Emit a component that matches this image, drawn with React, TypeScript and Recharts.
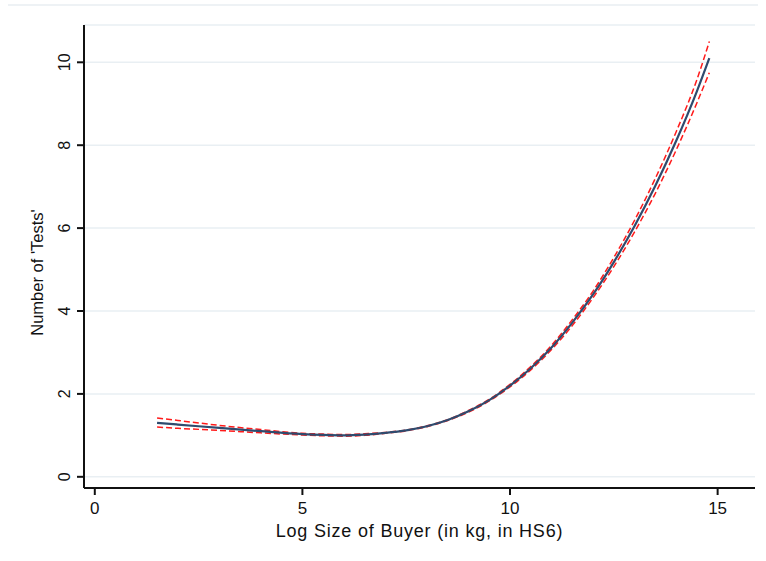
import React from "react";
import { LineChart, Line, XAxis, YAxis, CartesianGrid } from "recharts";

const sizes = [1.5, 2, 3, 4, 5, 5.5, 6, 6.5, 7, 7.5, 8, 8.5, 9, 9.5, 10, 10.5, 11, 11.5, 12, 12.5, 13, 13.5, 14, 14.5, 14.8];
const tests = [1.3, 1.26, 1.18, 1.1, 1.03, 1.01, 1.0, 1.02, 1.06, 1.12, 1.22, 1.37, 1.58, 1.85, 2.2, 2.62, 3.12, 3.72, 4.4, 5.18, 6.05, 7.02, 8.1, 9.3, 10.1];
const upper = [1.42, 1.36, 1.24, 1.14, 1.05, 1.03, 1.02, 1.04, 1.07, 1.13, 1.23, 1.38, 1.6, 1.87, 2.23, 2.66, 3.17, 3.79, 4.48, 5.29, 6.19, 7.2, 8.32, 9.58, 10.5];
const lower = [1.2, 1.17, 1.12, 1.06, 1.01, 0.99, 0.98, 1.0, 1.05, 1.11, 1.21, 1.36, 1.56, 1.83, 2.17, 2.58, 3.07, 3.65, 4.32, 5.07, 5.91, 6.84, 7.88, 9.02, 9.75];

const xTicks = [0, 5, 10, 15];
const yTicks = [0, 2, 4, 6, 8, 10];

const data = sizes.map((x, i) => ({ x, fit: tests[i], hi: upper[i], lo: lower[i] }));

const FONT = "'Liberation Sans', Arial, sans-serif";

function YTick(props: any) {
  const { x, y, payload } = props;
  const cx = x - 5;
  return (
    <text
      x={cx}
      y={y}
      transform={`rotate(-90 ${cx} ${y})`}
      textAnchor="middle"
      fontSize={16}
      fontFamily={FONT}
      fill="#111"
    >
      {payload.value}
    </text>
  );
}

function YTitle(props: any) {
  const vb = props.viewBox || { x: 0, y: 25, width: 84, height: 463 };
  const x = vb.x + 43;
  const y = vb.y + vb.height / 2 + 16;
  return (
    <text
      x={x}
      y={y}
      transform={`rotate(-90 ${x} ${y})`}
      textAnchor="middle"
      fontSize={16.5}
      fontFamily={FONT}
      fill="#111"
    >
      Number of 'Tests'
    </text>
  );
}

function XTitle(props: any) {
  const vb = props.viewBox || { x: 84, y: 488, width: 671, height: 73 };
  return (
    <text
      x={vb.x + vb.width / 2}
      y={vb.y + 49}
      textAnchor="middle"
      fontSize={18}
      letterSpacing={0.8}
      fontFamily={FONT}
      fill="#111"
    >
      Log Size of Buyer (in kg, in HS6)
    </text>
  );
}

export default function App() {
  return (
    <div style={{ position: "absolute", left: 0, top: 0, width: 766, height: 561, background: "#fff" }}>
      <div style={{ position: "absolute", left: 8, top: 4, width: 750, height: 2, background: "#eef2f5" }} />
      <LineChart width={766} height={561} data={data} margin={{ top: 25, right: 11, left: 0, bottom: 0 }}>
        <CartesianGrid vertical={false} stroke="#e9eff3" strokeWidth={1.5} />
        <XAxis
          type="number"
          dataKey="x"
          domain={[-0.26, 15.9]}
          ticks={xTicks}
          allowDataOverflow
          height={73}
          stroke="#111"
          strokeWidth={2}
          tickSize={7}
          tick={{ fill: "#111", fontSize: 17, fontFamily: FONT, dy: 5 }}
          label={<XTitle />}
        />
        <YAxis
          type="number"
          domain={[-0.27, 10.9]}
          ticks={yTicks}
          allowDataOverflow
          width={84}
          stroke="#111"
          strokeWidth={2}
          tickSize={7}
          tick={<YTick />}
          label={<YTitle />}
        />
        <Line type="monotone" dataKey="hi" stroke="#ff1a1a" strokeWidth={1.5} strokeDasharray="6 3" dot={false} isAnimationActive={false} />
        <Line type="monotone" dataKey="lo" stroke="#ff1a1a" strokeWidth={1.5} strokeDasharray="6 3" dot={false} isAnimationActive={false} />
        <Line type="monotone" dataKey="fit" stroke="#2f4b6e" strokeWidth={2.2} dot={false} isAnimationActive={false} />
      </LineChart>
    </div>
  );
}
